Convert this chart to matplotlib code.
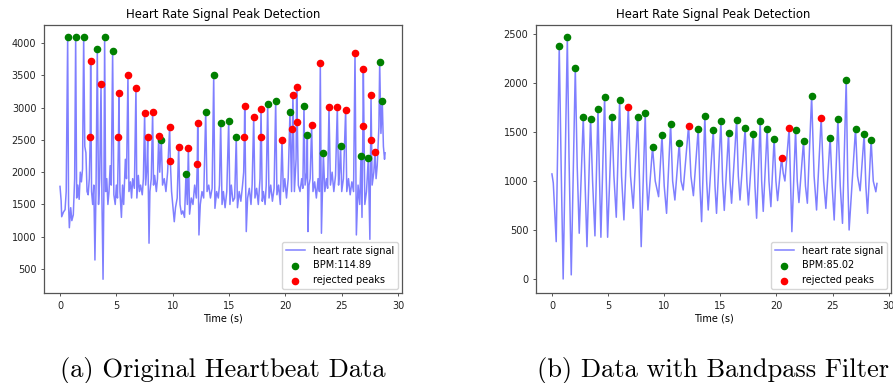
import matplotlib
matplotlib.use("Agg")
import matplotlib.pyplot as plt

# ---------------- data: panel (a) original signal ----------------
sig_a_t = [0.00, 0.10, 0.15, 0.30, 0.45, 0.55, 0.68, 0.76, 0.83, 0.95, 1.05, 1.18, 1.30, 1.39, 1.48, 1.58,
           1.70, 1.80, 1.90, 2.00, 2.10, 2.20, 2.30, 2.40, 2.50, 2.60, 2.68, 2.72, 2.80, 2.90, 3.00, 3.10,
           3.20, 3.31, 3.42, 3.52, 3.64, 3.72, 3.82, 3.90, 3.96, 4.05, 4.15, 4.25, 4.35, 4.45, 4.55, 4.67,
           4.78, 4.90, 5.00, 5.10, 5.19, 5.23, 5.32, 5.45, 5.55, 5.65, 5.80, 5.90, 6.03, 6.12, 6.25, 6.35,
           6.45, 6.60, 6.74, 6.82, 6.95, 7.05, 7.15, 7.30, 7.40, 7.51, 7.60, 7.72, 7.78, 7.85, 7.90, 7.98,
           8.10, 8.22, 8.30, 8.40, 8.55, 8.65, 8.76, 8.85, 8.99, 9.10, 9.25, 9.40, 9.55, 9.73, 9.79, 9.90,
           10.00, 10.14, 10.25, 10.40, 10.53, 10.65, 10.78, 10.90, 11.05, 11.18, 11.30, 11.39, 11.50, 11.65,
           11.80, 11.95, 12.10, 12.18, 12.22, 12.33, 12.45, 12.60, 12.75, 12.93, 13.05, 13.20, 13.35, 13.50,
           13.64, 13.75, 13.90, 14.05, 14.15, 14.26, 14.38, 14.50, 14.65, 14.80, 14.97, 15.08, 15.20, 15.35,
           15.50, 15.64, 15.75, 15.90, 16.05, 16.20, 16.30, 16.36, 16.39, 16.53, 16.65, 16.80, 16.95, 17.05,
           17.19, 17.30, 17.45, 17.60, 17.75, 17.80, 17.84, 17.95, 18.05, 18.20, 18.30, 18.43, 18.55, 18.70,
           18.85, 19.00, 19.14, 19.25, 19.40, 19.55, 19.70, 19.82, 19.95, 20.10, 20.25, 20.41, 20.55, 20.63,
           20.67, 20.80, 20.95, 21.00, 21.06, 21.15, 21.30, 21.45, 21.55, 21.65, 21.75, 21.90, 21.95, 22.00,
           22.10, 22.20, 22.33, 22.45, 22.60, 22.75, 22.90, 23.02, 23.10, 23.20, 23.30, 23.37, 23.50, 23.65,
           23.75, 23.87, 24.00, 24.15, 24.30, 24.45, 24.61, 24.72, 24.80, 24.90, 25.00, 25.15, 25.35, 25.45,
           25.60, 25.75, 25.90, 26.05, 26.18, 26.30, 26.45, 26.60, 26.71, 26.80, 26.88, 26.92, 27.05, 27.20,
           27.36, 27.50, 27.57, 27.60, 27.70, 27.85, 27.95, 28.05, 28.15, 28.30, 28.37, 28.48, 28.60, 28.70,
           28.80, 28.85]
sig_a_v = [1780, 1560, 1310, 1380, 1420, 1700, 4097, 1500, 1140, 1450, 1250, 1340, 1900, 4097, 1600, 1800,
           1580, 2000, 1850, 2050, 4097, 2400, 2300, 1700, 1650, 1900, 2540, 3726, 1700, 1500, 1800, 640,
           1800, 3912, 1500, 1900, 3365, 1600, 342, 1800, 4097, 1700, 1900, 1500, 1700, 2100, 1800, 3871,
           1650, 1500, 1800, 1600, 2540, 3221, 1700, 1300, 1800, 1500, 2200, 1900, 3510, 1700, 1850, 1600,
           1900, 1750, 3310, 1600, 1950, 1700, 1800, 1650, 1900, 2916, 1800, 2100, 2540, 1600, 900, 1700,
           1900, 2937, 1800, 1950, 1700, 1900, 2560, 2000, 2498, 1800, 1900, 1700, 2000, 2705, 2178, 1700,
           1500, 1233, 1450, 1600, 2390, 1500, 1350, 1400, 1300, 1967, 1500, 2380, 1350, 1600,
           1500, 1800, 1600, 2122, 2757, 1028, 1500, 1700, 1600, 2927, 1700, 1800, 1600, 1750,
           3500, 1440, 1700, 1600, 1800, 2757, 1500, 1700, 1450, 1700, 2797, 1500, 1800, 1550,
           1600, 2540, 1450, 1700, 1550, 1800, 2000, 2550, 3020, 1080, 1600, 1750, 1500, 1800,
           2860, 1600, 1750, 1500, 1900, 2540, 2978, 1550, 1700, 1500, 1800, 3050, 1600, 1800,
           1550, 1750, 3107, 1650, 1800, 1500, 2494, 1700, 1900, 1600, 1900, 2932, 1700, 2674,
           3200, 1700, 2200, 3319, 2772, 1800, 1700, 1900, 1750, 3025, 1800, 2000, 2576, 1080,
           1800, 1900, 2730, 1700, 1850, 1600, 1900, 1700, 3695, 1054, 1800, 2292, 1700, 1900,
           1750, 3003, 1800, 2000, 1700, 1950, 3010, 1800, 2000, 2406, 1700, 1900, 2963, 1700,
           1900, 1650, 1850, 1700, 3850, 1028, 1800, 1500, 2251, 1300, 2710, 3593, 1500, 1700,
           2225, 960, 2503, 3190, 1800, 2000, 2317, 1900, 2100, 2700, 3706, 2600, 3097, 2400,
           2200, 2300]

acc_a_t = [0.68, 1.39, 2.10, 3.31, 3.96, 4.67, 8.99, 11.18, 12.93, 13.64, 14.26, 14.97, 15.64,
           18.43, 19.14, 20.41, 21.65, 21.95, 23.37, 24.90, 26.71, 27.36, 28.37, 28.60]
acc_a_v = [4097, 4097, 4097, 3912, 4097, 3871, 2498, 1967, 2927, 3500, 2757, 2797, 2540,
           3050, 3107, 2932, 3025, 2576, 2292, 2406, 2251, 2225, 3706, 3097]
rej_a_t = [2.68, 2.72, 3.64, 5.19, 5.23, 6.03, 6.74, 7.51, 7.78, 8.22, 8.76, 9.73, 9.79, 10.53,
           11.39, 12.18, 12.22, 16.36, 16.39, 17.19, 17.80, 17.84, 19.70, 20.63, 20.67, 21.00,
           21.06, 22.33, 23.10, 23.87, 24.61, 25.35, 26.18, 26.88, 26.92, 27.57, 27.60, 27.95]
rej_a_v = [2540, 3726, 3365, 2540, 3221, 3510, 3310, 2916, 2540, 2937, 2560, 2705, 2178, 2390,
           2380, 2122, 2757, 2550, 3020, 2860, 2540, 2978, 2494, 2674, 3200, 3319,
           2772, 2730, 3695, 3003, 3010, 2963, 3850, 2710, 3593, 2503, 3190, 2317]

# ---------------- data: panel (b) band-pass filtered ----------------
sig_b_t = [0.00, 0.12, 0.38, 0.65, 0.82, 1.00, 1.37, 1.52, 1.72, 2.08, 2.25, 2.43, 2.79, 2.96, 3.12,
           3.44, 3.62, 3.83, 4.10, 4.22, 4.36, 4.69, 4.83, 4.96, 5.34, 5.52, 5.73, 6.03, 6.20, 6.41,
           6.80, 7.00, 7.24, 7.63, 7.80, 7.95, 8.31, 8.43, 8.55, 8.96, 9.20, 9.50, 9.80, 10.00, 10.21,
           10.57, 10.75, 10.95, 11.34, 11.50, 11.69, 12.17, 12.38, 12.60, 13.03, 13.18, 13.33, 13.62,
           13.78, 13.92, 14.37, 14.52, 14.66, 15.05, 15.20, 15.35, 15.73, 15.86, 16.00, 16.45, 16.60,
           16.75, 17.21, 17.36, 17.50, 17.93, 18.08, 18.23, 18.55, 18.68, 18.82, 19.17, 19.33, 19.50,
           19.79, 19.95, 20.10, 20.45, 20.60, 20.75, 21.13, 21.25, 21.37, 21.70, 21.85, 22.00, 22.41,
           22.58, 22.75, 23.13, 23.35, 23.57, 23.98, 24.20, 24.40, 24.78, 24.96, 25.14, 25.47, 25.68,
           25.88, 26.21, 26.35, 26.47, 27.04, 27.22, 27.45, 27.81, 27.96, 28.11, 28.43, 28.62, 28.85,
           28.95]
sig_b_v = [1072, 980, 381, 2381, 1150, 0, 2466, 1250, 42, 2153, 1150, 467, 1650, 950, 330,
           1636, 1000, 440, 1738, 1100, 426, 1861, 1050, 426, 1650, 1050, 630, 1823, 1050, 603,
           1759, 1050, 722, 1656, 1000, 330, 1690, 1000, 704, 1344, 1000, 840, 1467, 950, 670,
           1585, 1000, 806, 1388, 1000, 908, 1565, 1050, 850, 1534, 950, 585, 1667,
           1000, 704, 1520, 950, 670, 1609, 1000, 700, 1490, 1000, 773, 1619, 1050,
           806, 1538, 1000, 755, 1483, 950, 620, 1609, 1000, 690, 1528, 1000, 738,
           1432, 1000, 800, 1235, 1080, 1000, 1541, 1000, 483, 1520, 1000, 780, 1408,
           950, 773, 1867, 1050, 704, 1646, 1000, 720, 1442, 950, 602, 1633, 950,
           568, 2031, 1000, 500, 1534, 1050, 900, 1480, 950, 670, 1415, 1000, 890,
           975]

acc_b_t = [0.65, 1.37, 2.08, 2.79, 3.44, 4.10, 4.69, 5.34, 6.03, 7.63, 8.31, 8.96, 9.80, 10.57,
           11.34, 13.03, 13.62, 14.37, 15.05, 15.73, 16.45, 17.21, 17.93, 18.55, 19.17, 19.79,
           21.70, 22.41, 23.13, 24.78, 25.47, 26.21, 27.04, 27.81, 28.43]
acc_b_v = [2381, 2466, 2153, 1650, 1636, 1738, 1861, 1650, 1823, 1656, 1690, 1344, 1467, 1585,
           1388, 1534, 1667, 1520, 1609, 1490, 1619, 1538, 1483, 1609, 1528, 1432,
           1520, 1408, 1867, 1442, 1633, 2031, 1534, 1480, 1415]
rej_b_t = [6.80, 12.17, 20.45, 21.13, 23.98]
rej_b_v = [1759, 1565, 1235, 1541, 1646]

title_text = "Heart Rate Signal Peak Detection"
xlabel_text = "Time (s)"
labels_a = ["heart rate signal", "BPM:114.89", "rejected peaks"]
labels_b = ["heart rate signal", "BPM:85.02", "rejected peaks"]
captions = ["(a) Original Heartbeat Data", "(b) Data with Bandpass Filter"]

# ---------------- figure ----------------
W, H = 893, 383
fig = plt.figure(figsize=(W / 100, H / 100), dpi=100)

def px_axes(x0, y0, x1, y1):
    return [x0 / W, 1 - y1 / H, (x1 - x0) / W, (y1 - y0) / H]

ax_a = fig.add_axes(px_axes(44, 25, 402, 293))
ax_b = fig.add_axes(px_axes(536, 25, 891, 293))

panels = [
    (ax_a, sig_a_t, sig_a_v, acc_a_t, acc_a_v, rej_a_t, rej_a_v, labels_a, [500, 1000, 1500, 2000, 2500, 3000, 3500, 4000]),
    (ax_b, sig_b_t, sig_b_v, acc_b_t, acc_b_v, rej_b_t, rej_b_v, labels_b, [0, 500, 1000, 1500, 2000, 2500]),
]

for ax, st, sv, at, av, rt, rv, labs, yt in panels:
    ax.plot(st, sv, color="blue", alpha=0.5, lw=1.1, label=labs[0], zorder=1)
    ax.scatter(at, av, color="green", s=20, label=labs[1], zorder=3)
    ax.scatter(rt, rv, color="red", s=20, label=labs[2], zorder=3)
    ax.set_title(title_text, fontsize=8.4, pad=5)
    ax.set_xlabel(xlabel_text, fontsize=7, labelpad=2)
    ax.set_xticks([0, 5, 10, 15, 20, 25, 30])
    ax.set_yticks(yt)
    ax.tick_params(labelsize=7, length=2.5, width=0.7, pad=3, color="#555555", labelcolor="#222222")
    for sp in ax.spines.values():
        sp.set_linewidth(0.9)
        sp.set_color("#555555")
    ax.legend(loc="lower right", fontsize=7, scatterpoints=1, borderaxespad=0.4,
              handlelength=2.0, framealpha=0.8)

ax_a.set_xlim(-1.42, 30.35)
ax_a.set_ylim(129, 4279)
ax_b.set_xlim(-1.42, 30.2)
ax_b.set_ylim(-143, 2592)

fig.text(223 / W, 1 - 377 / H, captions[0], family="cmr10", fontsize=19, ha="center", va="baseline")
fig.text(713 / W, 1 - 377 / H, captions[1], family="cmr10", fontsize=19, ha="center", va="baseline")

fig.savefig("out.png", dpi=100)
